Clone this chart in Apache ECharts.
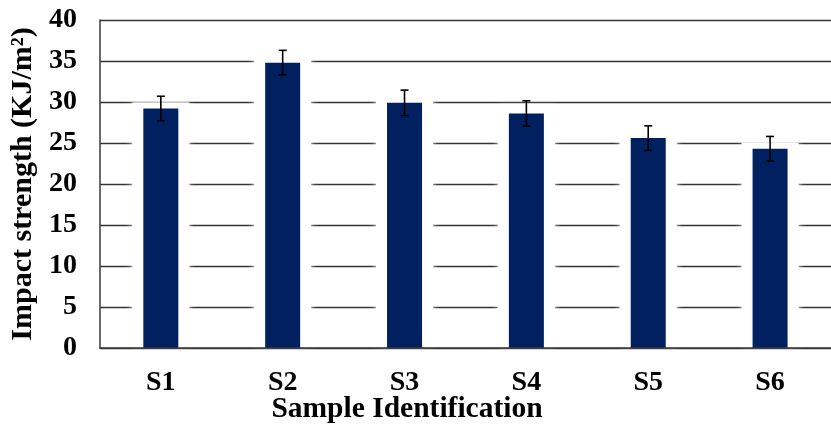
<!DOCTYPE html>
<html>
<head>
<meta charset="utf-8">
<script src="https://cdn.jsdelivr.net/npm/echarts@6/dist/echarts.min.js"></script>
<style>html,body{margin:0;padding:0;background:#fff}#c{width:831px;height:427px}</style>
</head>
<body>
<div id="c"></div>
<script>
const categories = ['S1', 'S2', 'S3', 'S4', 'S5', 'S6'];
const values = [29.2, 34.8, 29.9, 28.6, 25.6, 24.3];
const errors = [1.5, 1.5, 1.55, 1.55, 1.5, 1.5];
const yTicks = [0, 5, 10, 15, 20, 25, 30, 35, 40];

const FONT = '"Liberation Serif", "Times New Roman", serif';
const chart = echarts.init(document.getElementById('c'), null, {renderer: 'canvas'});

const errData = values.map((v, i) => [i, v - errors[i], v + errors[i]]);
const haloData = values.map((v, i) => [i, v]);

chart.setOption({
  animation: false,
  backgroundColor: '#fff',
  grid: {left: 99, top: 20, width: 742, height: 328, containLabel: false},
  xAxis: {
    type: 'category',
    data: categories,
    axisLine: {show: true, lineStyle: {color: '#3a3a3a', width: 1.5}},
    axisTick: {show: false},
    axisLabel: {fontFamily: FONT, fontWeight: 'bold', fontSize: 28, color: '#000', margin: 21},
    splitLine: {show: false},
    z: 10
  },
  yAxis: {
    type: 'value',
    min: yTicks[0],
    max: yTicks[yTicks.length - 1],
    interval: 5,
    name: 'Impact strength (KJ/m²)',
    nameLocation: 'middle',
    nameGap: 60,
    nameTextStyle: {fontFamily: FONT, fontWeight: 'bold', fontSize: 30, color: '#000'},
    axisLine: {show: true, lineStyle: {color: '#3a3a3a', width: 1.5}},
    axisTick: {show: false},
    axisLabel: {fontFamily: FONT, fontWeight: 'bold', fontSize: 28, color: '#000', margin: 23},
    splitLine: {show: true, lineStyle: {color: '#333', width: 1.3}}
  },
  graphic: [{
    type: 'text',
    x: 407,
    y: 409,
    style: {
      text: 'Sample Identification',
      font: 'bold 29.5px ' + FONT,
      fill: '#000',
      textAlign: 'center',
      textVerticalAlign: 'middle'
    }
  }],
  series: [{
    type: 'custom',
    data: haloData,
    z: 1,
    silent: true,
    renderItem: function (params, api) {
      const top = api.coord([api.value(0), api.value(1)]);
      const base = api.coord([api.value(0), 0]);
      const hw = 17.5 + 11;
      return {
        type: 'rect',
        shape: {x: top[0] - hw, y: top[1] - 6, width: hw * 2, height: base[1] - top[1] + 4},
        style: {fill: '#fff', shadowColor: '#fff', shadowBlur: 6}
      };
    }
  }, {
    type: 'bar',
    data: values,
    barWidth: 35,
    barGap: '-100%',
    itemStyle: {color: '#002060'},
    z: 2
  }, {
    type: 'custom',
    data: errData,
    z: 5,
    renderItem: function (params, api) {
      const x = api.coord([api.value(0), api.value(1)])[0];
      const yLo = api.coord([api.value(0), api.value(1)])[1];
      const yHi = api.coord([api.value(0), api.value(2)])[1];
      const hw = 4;
      const st = {stroke: '#000', lineWidth: 1.6};
      return {
        type: 'group',
        children: [
          {type: 'line', shape: {x1: x, y1: yLo, x2: x, y2: yHi}, style: st},
          {type: 'line', shape: {x1: x - hw, y1: yHi, x2: x + hw, y2: yHi}, style: st},
          {type: 'line', shape: {x1: x - hw, y1: yLo, x2: x + hw, y2: yLo}, style: st}
        ]
      };
    }
  }]
});
</script>
</body>
</html>
